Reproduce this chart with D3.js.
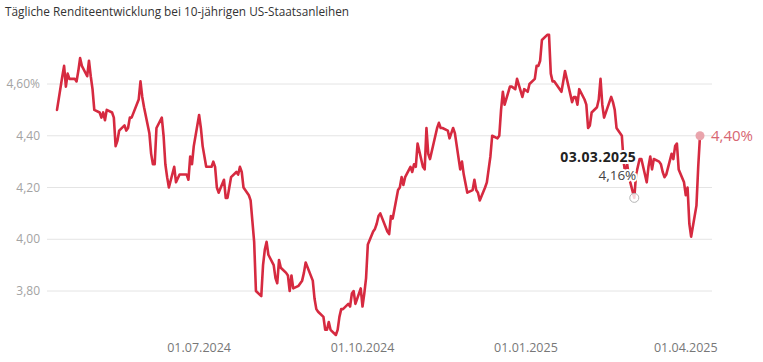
<!DOCTYPE html>
<html>
<head>
<meta charset="utf-8">
<script src="https://cdn.jsdelivr.net/npm/d3@7"></script>
<style>
  body { margin: 0; background: #fff; }
  svg { display: block; font-family: "Open Sans", sans-serif; }
</style>
</head>
<body>
<svg id="chart" width="763" height="362"></svg>
<script>
// Rendite 10-jährige US-Staatsanleihen, Handelstage je Monat
var months = ["2024-04", "2024-05", "2024-06", "2024-07", "2024-08", "2024-09", "2024-10",
              "2024-11", "2024-12", "2025-01", "2025-02", "2025-03", "2025-04"];

var tradingDays = [
    [12, 15, 16, 17, 18, 19, 22, 23, 24, 25, 26, 29, 30],
    [1, 2, 3, 6, 7, 8, 9, 10, 13, 14, 15, 16, 17, 20, 21, 22, 23, 24, 28, 29, 30, 31],
    [3, 4, 5, 6, 7, 10, 11, 12, 13, 14, 17, 18, 20, 21, 24, 25, 26, 27, 28],
    [1, 2, 3, 5, 8, 9, 10, 11, 12, 15, 16, 17, 18, 19, 22, 23, 24, 25, 26, 29, 30, 31],
    [1, 2, 5, 6, 7, 8, 9, 12, 13, 14, 15, 16, 19, 20, 21, 22, 23, 26, 27, 28, 29, 30],
    [3, 4, 5, 6, 9, 10, 11, 12, 13, 16, 17, 18, 19, 20, 23, 24, 25, 26, 27, 30],
    [1, 2, 3, 4, 7, 8, 9, 10, 11, 15, 16, 17, 18, 21, 22, 23, 24, 25, 28, 29, 30, 31],
    [1, 4, 5, 6, 7, 8, 12, 13, 14, 15, 18, 19, 20, 21, 22, 25, 26, 27, 29],
    [2, 3, 4, 5, 6, 9, 10, 11, 12, 13, 16, 17, 18, 19, 20, 23, 24, 26, 27, 30, 31],
    [2, 3, 6, 7, 8, 9, 10, 13, 14, 15, 16, 17, 21, 22, 23, 24, 27, 28, 29, 30, 31],
    [3, 4, 5, 6, 7, 10, 11, 12, 13, 14, 18, 19, 20, 21, 24, 25, 26, 27, 28],
    [3, 4, 5, 6, 7, 10, 11, 12, 13, 14, 17, 18, 19, 20, 21, 24, 25, 26, 27, 28, 31],
    [1, 2, 3, 4, 7, 8, 9]
];

var yields = [
    [4.50, 4.63, 4.67, 4.59, 4.64, 4.62, 4.62, 4.61, 4.65, 4.70, 4.67, 4.63, 4.69],
    [4.63, 4.58, 4.50, 4.49, 4.47, 4.49, 4.46, 4.50, 4.49, 4.47, 4.36, 4.38, 4.42, 4.44, 4.42, 4.43, 4.47, 4.47, 4.54, 4.61, 4.55, 4.51],
    [4.41, 4.33, 4.29, 4.29, 4.43, 4.47, 4.40, 4.29, 4.24, 4.20, 4.28, 4.22, 4.25, 4.25, 4.25, 4.23, 4.32, 4.29, 4.36],
    [4.48, 4.43, 4.36, 4.28, 4.28, 4.30, 4.28, 4.20, 4.18, 4.23, 4.16, 4.16, 4.20, 4.24, 4.26, 4.25, 4.28, 4.26, 4.20, 4.17, 4.15, 4.07],
    [3.99, 3.80, 3.78, 3.90, 3.96, 3.99, 3.94, 3.90, 3.85, 3.83, 3.92, 3.89, 3.87, 3.86, 3.80, 3.86, 3.81, 3.82, 3.83, 3.84, 3.87, 3.91],
    [3.84, 3.77, 3.73, 3.72, 3.70, 3.65, 3.65, 3.68, 3.65, 3.63, 3.65, 3.70, 3.73, 3.73, 3.75, 3.74, 3.79, 3.80, 3.75, 3.81],
    [3.74, 3.79, 3.85, 3.98, 4.03, 4.04, 4.06, 4.09, 4.10, 4.03, 4.02, 4.09, 4.08, 4.19, 4.20, 4.24, 4.21, 4.24, 4.28, 4.26, 4.29, 4.28],
    [4.37, 4.28, 4.27, 4.43, 4.33, 4.31, 4.43, 4.45, 4.43, 4.43, 4.42, 4.39, 4.41, 4.43, 4.41, 4.27, 4.30, 4.25, 4.18],
    [4.19, 4.23, 4.19, 4.18, 4.15, 4.20, 4.22, 4.27, 4.32, 4.40, 4.39, 4.40, 4.50, 4.57, 4.52, 4.59, 4.59, 4.58, 4.62, 4.55, 4.58],
    [4.57, 4.60, 4.62, 4.67, 4.67, 4.69, 4.77, 4.79, 4.79, 4.64, 4.61, 4.61, 4.57, 4.61, 4.65, 4.62, 4.53, 4.55, 4.55, 4.52, 4.58],
    [4.54, 4.52, 4.43, 4.44, 4.49, 4.51, 4.54, 4.62, 4.52, 4.47, 4.55, 4.53, 4.50, 4.43, 4.40, 4.30, 4.25, 4.29, 4.24],
    [4.16, 4.25, 4.28, 4.31, 4.31, 4.22, 4.28, 4.32, 4.27, 4.31, 4.30, 4.29, 4.26, 4.24, 4.25, 4.33, 4.31, 4.36, 4.37, 4.27, 4.22],
    [4.17, 4.20, 4.06, 4.01, 4.13, 4.28, 4.40]
];

var yTicks = [3.8, 4.0, 4.2, 4.4, 4.6];
var xTicks = ["2024-07-01", "2024-10-01", "2025-01-01", "2025-04-01"];
var highlightDate = "2025-03-03";

var parseDate = d3.timeParse("%Y-%m-%d");
var fmtDay = d3.timeFormat("%d.%m.%Y");
var fmtNum = function(v) { return d3.format(".2f")(v).replace(".", ","); };

// Build flat series from the monthly arrays
var data = [];
months.forEach(function(m, i) {
    tradingDays[i].forEach(function(day, j) {
        data.push({ date: parseDate(m + "-" + String(day).padStart(2, "0")), value: yields[i][j] });
    });
});

var svg = d3.select("#chart");

var x = d3.scaleTime()
    .domain(d3.extent(data, d => d.date))
    .range([57, 700]);

var y = d3.scaleLinear()
    .domain([3.8, 4.6])
    .range([291, 84]);

// Title
svg.append("text")
    .attr("x", 5)
    .attr("y", 16)
    .attr("fill", "#333")
    .style("font-size", "11.8px")
    .text("Tägliche Renditeentwicklung bei 10-jährigen US-Staatsanleihen");

// Gridlines
svg.append("g")
    .selectAll("line")
    .data(yTicks)
    .join("line")
    .attr("x1", 47)
    .attr("x2", 712)
    .attr("y1", d => y(d))
    .attr("y2", d => y(d))
    .attr("stroke", "#e4e4e4")
    .attr("stroke-width", 1);

// Y labels
svg.append("g")
    .selectAll("text")
    .data(yTicks)
    .join("text")
    .attr("x", 40)
    .attr("y", d => y(d))
    .attr("dy", "0.35em")
    .attr("text-anchor", "end")
    .attr("fill", "#a3a3a3")
    .style("font-size", "12px")
    .text(d => fmtNum(d) + (d === 4.6 ? "%" : ""));

// X labels
svg.append("g")
    .selectAll("text")
    .data(xTicks)
    .join("text")
    .attr("x", d => x(parseDate(d)))
    .attr("y", 352)
    .attr("text-anchor", "middle")
    .attr("fill", "#777")
    .style("font-size", "12.5px")
    .text(d => fmtDay(parseDate(d)));

// Line
var line = d3.line()
    .x(d => x(d.date))
    .y(d => y(d.value));

svg.append("path")
    .datum(data)
    .attr("d", line)
    .attr("fill", "none")
    .attr("stroke", "#d62a40")
    .attr("stroke-width", 2.6)
    .attr("stroke-linejoin", "round")
    .attr("stroke-linecap", "round");

// Last point
var last = data[data.length - 1];
svg.append("circle")
    .attr("cx", x(last.date))
    .attr("cy", y(last.value))
    .attr("r", 4.5)
    .attr("fill", "#e9a4ac");

svg.append("text")
    .attr("x", x(last.date) + 11)
    .attr("y", y(last.value))
    .attr("dy", "0.35em")
    .attr("fill", "#d76672")
    .style("font-size", "15px")
    .text(fmtNum(last.value) + "%");

// Highlighted day
var hl = data.find(d => fmtDay(d.date) === fmtDay(parseDate(highlightDate)));
var hx = x(hl.date), hy = y(hl.value);

svg.append("circle")
    .attr("cx", hx)
    .attr("cy", hy)
    .attr("r", 4.5)
    .attr("fill", "#fff")
    .attr("fill-opacity", 0.8)
    .attr("stroke", "#b5b5b5")
    .attr("stroke-width", 1);

var label = svg.append("g")
    .attr("text-anchor", "end")
    .style("paint-order", "stroke")
    .attr("stroke", "#fff")
    .attr("stroke-width", 4)
    .attr("stroke-linejoin", "round");

label.append("text")
    .attr("x", hx + 2)
    .attr("y", hy - 36)
    .attr("fill", "#222")
    .style("font-size", "14px")
    .style("font-weight", "bold")
    .style("letter-spacing", "0.4px")
    .text(fmtDay(hl.date));

label.append("text")
    .attr("x", hx + 2)
    .attr("y", hy - 18)
    .attr("fill", "#444")
    .style("font-size", "13.5px")
    .text(fmtNum(hl.value) + "%");
</script>
</body>
</html>
